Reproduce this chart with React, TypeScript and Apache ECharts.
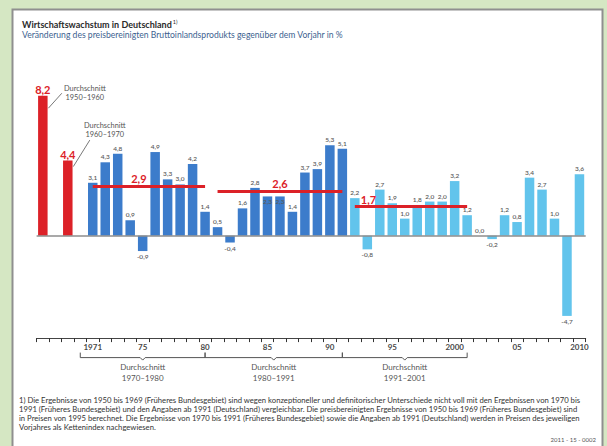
import React, { useEffect, useRef } from "react";
import * as echarts from "echarts";

const avgPeriods = ["1950–1960", "1960–1970"];
const avgGrowth = [8.2, 4.4];
const years = [
  "1971", "1972", "1973", "1974", "1975", "1976", "1977", "1978", "1979", "1980",
  "1981", "1982", "1983", "1984", "1985", "1986", "1987", "1988", "1989", "1990",
  "1991", "1992", "1993", "1994", "1995", "1996", "1997", "1998", "1999", "2000",
  "2001", "2002", "2003", "2004", "2005", "2006", "2007", "2008", "2009", "2010",
];
// 1971–1991 (Früheres Bundesgebiet)
const growthWest = [3.1, 4.3, 4.8, 0.9, -0.9, 4.9, 3.3, 3.0, 4.2, 1.4, 0.5, -0.4, 1.6, 2.8, 2.3, 2.3, 1.4, 3.7, 3.9, 5.3, 5.1];
// 1992–2010 (Deutschland)
const growthGermany = [2.2, -0.8, 2.7, 1.9, 1.0, 1.8, 2.0, 2.0, 3.2, 1.2, 0.0, -0.2, 1.2, 0.8, 3.4, 2.7, 1.0, -4.7, 3.6];
const tickYears = ["1971", "1975", "1980", "1985", "1990", "1995", "2000", "2005", "2010"];
const tickLabels = ["1971", "75", "80", "85", "90", "95", "2000", "05", "2010"];
const periodAvg = [2.9, 2.6, 1.7];
const periodFrom = ["1971", "1981", "1992"];
const periodTo = ["1980", "1991", "2001"];
const bracketFrom = [1970, 1980, 1991];
const bracketTo = [1980, 1991, 2001];
const bracketLabels = ["1970–1980", "1980–1991", "1991–2001"];
const insideLabelYears = ["1985", "1986"];

const RED = "#dc2128";
const DARK_BLUE = "#3c7ccb";
const LIGHT_BLUE = "#62c4ec";
const FONT = "Lato";

const fmt = (v: number) => v.toFixed(1).replace(".", ",");

export default function App() {
  const ref = useRef<HTMLDivElement>(null);
  useEffect(() => {
    if (!ref.current) return;
    const chart = echarts.init(ref.current, undefined, { renderer: "svg" });
    const categories = [avgPeriods[0], " ", avgPeriods[1], "  ", ...years];
    const firstYearIdx = categories.indexOf(years[0]);
    const yearIndex = (y: number) => firstYearIdx + (y - Number(years[0]));

    const redData = categories.map((c) => {
      const i = avgPeriods.indexOf(c);
      return i >= 0 ? avgGrowth[i] : "-";
    });
    const mkItems = (vals: number[], offset: number) =>
      categories.map((c) => {
        const i = years.indexOf(c) - offset;
        if (years.indexOf(c) < 0 || i < 0 || i >= vals.length) return "-";
        const v = vals[i];
        return {
          value: v,
          label: {
            position: v < 0 ? "bottom" : insideLabelYears.includes(c) ? "insideTop" : "top",
          },
        };
      });
    const westData = mkItems(growthWest, 0);
    const germanyData = mkItems(growthGermany, growthWest.length);

    const valueLabel = {
      show: true,
      fontSize: 6.5,
      fontFamily: FONT,
      fontWeight: 600,
      color: "#5a5a5a",
      distance: 2,
      formatter: (p: any) => fmt(p.value),
    };

    const avgLines = periodAvg.map((v, i) => [
      {
        coord: [periodFrom[i], v],
        label: {
          show: true,
          position: i === 2 ? "insideStartTop" : "insideMiddleTop",
          formatter: fmt(v),
          color: RED,
          fontSize: 11,
          fontWeight: "bold",
          fontFamily: FONT,
          distance: 2,
          offset: i === 0 ? [-10, 0] : i === 2 ? [4, 0] : [0, 0],
        },
      },
      { coord: [periodTo[i], v] },
    ]);

    const option: any = {
      animation: false,
      backgroundColor: "#d5e7c3",
      grid: { left: 36.6, right: 21.3, top: 65, bottom: 107.9 },
      xAxis: {
        type: "category",
        data: categories,
        boundaryGap: true,
        position: "bottom",
        axisLine: { show: true, onZero: false, lineStyle: { color: "#444", width: 1 } },
        axisTick: {
          show: true,
          length: 4,
          inside: false,
          alignWithLabel: false,
          lineStyle: { color: "#333", width: 1 },
          interval: 0,
        },
        axisLabel: {
          interval: (_i: number, v: string) => tickYears.includes(v),
          formatter: (v: string) => {
            const i = tickYears.indexOf(v);
            return i >= 0 ? tickLabels[i] : "";
          },
          fontSize: 8,
          fontWeight: "bold",
          fontFamily: FONT,
          color: "#4a4a4a",
          margin: 5,
        },
      },
      yAxis: {
        type: "value",
        min: -6,
        max: 10,
        show: false,
        splitLine: { show: false },
      },
      series: [
        {
          type: "bar",
          name: "Durchschnitt",
          data: redData,
          barWidth: 9.5,
          barGap: "-100%",
          itemStyle: { color: RED },
          label: {
            show: true,
            position: "top",
            distance: 1,
            color: RED,
            fontSize: 11,
            fontWeight: "bold",
            fontFamily: FONT,
            formatter: (p: any) => fmt(p.value),
          },
        },
        {
          type: "bar",
          name: "Früheres Bundesgebiet",
          data: westData,
          barWidth: 9.5,
          barGap: "-100%",
          itemStyle: { color: DARK_BLUE },
          label: valueLabel,
          markLine: {
            silent: true,
            symbol: "none",
            z: 5,
            data: [
              { yAxis: 0, lineStyle: { color: "#8c8c8c", width: 1.5, type: "solid" }, label: { show: false } },
            ],
          },
        },
        {
          type: "bar",
          name: "Deutschland",
          data: germanyData,
          barWidth: 9.5,
          barGap: "-100%",
          itemStyle: { color: LIGHT_BLUE },
          label: valueLabel,
          markLine: {
            silent: true,
            symbol: "none",
            z: 6,
            lineStyle: { color: RED, width: 3, type: "solid" },
            data: avgLines,
          },
        },
      ],
    };
    chart.setOption(option);

    const px = (i: number, v: number) =>
      chart.convertToPixel({ xAxisIndex: 0, yAxisIndex: 0 }, [i, v]) as number[];
    const yAxisLine = px(0, -6)[1];
    const textStyle = (extra: any) => ({
      fill: "#555",
      fontSize: 7.4,
      fontFamily: FONT,
      ...extra,
    });

    const graphics: any[] = [
      {
        type: "rect",
        z: -10,
        shape: { x: 12.5, y: 9.5, width: 590, height: 445 },
        style: { fill: "#ffffff", stroke: "#8f8f8f", lineWidth: 2 },
      },
      {
        type: "text",
        x: 22,
        y: 24,
        style: {
          text: "{t|Wirtschaftswachstum in Deutschland}{s|1)}",
          verticalAlign: "middle",
          rich: {
            t: { fontSize: 9, fontWeight: "bold", fill: "#2a2a2a", fontFamily: FONT },
            s: { fontSize: 5.5, fill: "#2a2a2a", fontFamily: FONT, padding: [0, 0, 5, 1] },
          },
        },
      },
      {
        type: "text",
        x: 22,
        y: 34.5,
        style: {
          text: "Veränderung des preisbereinigten Bruttoinlandsprodukts gegenüber dem Vorjahr in %",
          fill: "#3d5f8f",
          fontSize: 8.6,
          fontFamily: FONT,
          verticalAlign: "middle",
        },
      },
    ];

    // callouts for the decade averages
    const b1 = px(0, avgGrowth[0]);
    const b2 = px(2, avgGrowth[1]);
    graphics.push(
      {
        type: "line",
        shape: { x1: b1[0] + 5.5, y1: b1[1] + 12.5, x2: b1[0] + 19, y2: b1[1] - 2.5 },
        style: { stroke: "#555", lineWidth: 0.8 },
      },
      {
        type: "text", x: b1[0] + 42, y: b1[1] - 7,
        style: textStyle({ text: "Durchschnitt", align: "center", verticalAlign: "middle" }),
      },
      {
        type: "text", x: b1[0] + 42, y: b1[1] + 2,
        style: textStyle({ text: avgPeriods[0], align: "center", verticalAlign: "middle" }),
      },
      {
        type: "line",
        shape: { x1: b2[0] + 5.5, y1: b2[1] + 6, x2: b2[0] + 22, y2: b2[1] - 20.5 },
        style: { stroke: "#555", lineWidth: 0.8 },
      },
      {
        type: "text", x: b2[0] + 37, y: b2[1] - 35,
        style: textStyle({ text: "Durchschnitt", align: "center", verticalAlign: "middle" }),
      },
      {
        type: "text", x: b2[0] + 37, y: b2[1] - 26,
        style: textStyle({ text: avgPeriods[1], align: "center", verticalAlign: "middle" }),
      }
    );

    // brackets below the axis
    const yl = yAxisLine + 19.5;
    bracketFrom.forEach((from, i) => {
      const x1 = px(yearIndex(from), 0)[0];
      const x2 = px(yearIndex(bracketTo[i]), 0)[0];
      const xm = (x1 + x2) / 2;
      graphics.push(
        {
          type: "polyline",
          shape: {
            points: [
              [x1, yl - 5], [x1, yl], [xm - 2.5, yl], [xm, yl + 2.5], [xm + 2.5, yl], [x2, yl], [x2, yl - 5],
            ],
          },
          style: { stroke: "#555", lineWidth: 1, fill: "none" },
        },
        {
          type: "text", x: xm, y: yl + 9.5,
          style: textStyle({ text: "Durchschnitt", fontSize: 8, align: "center", verticalAlign: "middle" }),
        },
        {
          type: "text", x: xm, y: yl + 20.5,
          style: textStyle({ text: bracketLabels[i], fontSize: 8, align: "center", verticalAlign: "middle" }),
        }
      );
    });

    // footnote
    graphics.push(
      {
        type: "text",
        x: 19,
        y: 395,
        style: {
          text:
            "1) Die Ergebnisse von 1950 bis 1969 (Früheres Bundesgebiet) sind wegen konzeptioneller und definitorischer Unterschiede nicht voll mit den Ergebnissen von 1970 bis\n" +
            "1991 (Früheres Bundesgebiet) und den Angaben ab 1991 (Deutschland) vergleichbar. Die preisbereinigten Ergebnisse von 1950 bis 1969 (Früheres Bundesgebiet) sind\n" +
            "in Preisen von 1995 berechnet. Die Ergebnisse von 1970 bis 1991 (Früheres Bundesgebiet) sowie die Angaben ab 1991 (Deutschland) werden in Preisen des jeweiligen\n" +
            "Vorjahres als Kettenindex nachgewiesen.",
          fill: "#333",
          fontSize: 7.7,
          lineHeight: 9,
          fontFamily: FONT,
          verticalAlign: "top",
        },
      },
      {
        type: "text",
        x: 596,
        y: 439,
        style: {
          text: "2011 - 15 - 0002",
          fill: "#555",
          fontSize: 6,
          fontFamily: FONT,
          align: "right",
          verticalAlign: "middle",
        },
      }
    );

    chart.setOption({ graphic: graphics });
    return () => chart.dispose();
  }, []);

  return (
    <div
      ref={ref}
      style={{ position: "fixed", left: 0, top: 0, width: 607, height: 446 }}
    />
  );
}
